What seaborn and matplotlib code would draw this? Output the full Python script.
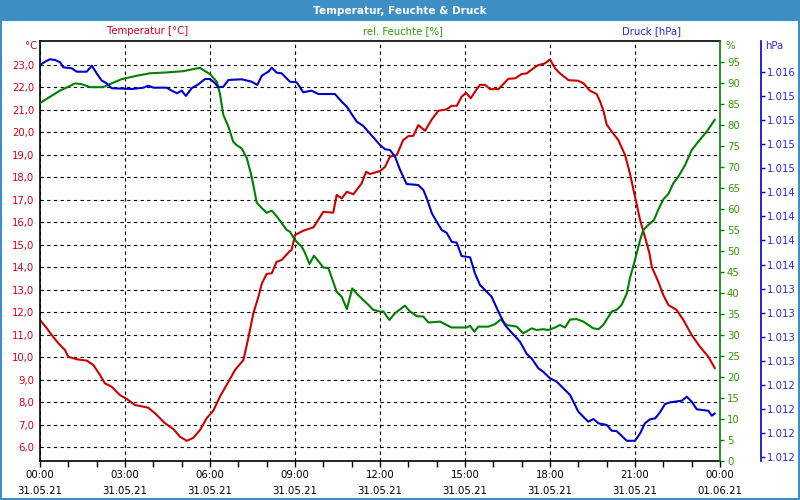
import matplotlib
matplotlib.use("Agg")
import matplotlib.pyplot as plt
import seaborn as sns
from matplotlib.patches import Rectangle
from matplotlib.ticker import FixedLocator, FuncFormatter

# ---------------- data ----------------
# time in hours since 31.05.21 00:00
t_temp = [0.00, 0.24, 0.41, 0.65, 0.88, 1.00, 1.30, 1.65, 1.88, 2.12, 2.29, 2.53, 2.82, 3.06, 3.35,
          3.82, 4.06, 4.41, 4.71, 4.94, 5.18, 5.41, 5.65, 5.88, 6.12, 6.35, 6.65, 6.88, 7.18, 7.35,
          7.53, 7.71, 7.83, 8.00, 8.18, 8.35, 8.53, 8.82, 8.88, 9.00, 9.29, 9.65, 10.00, 10.35, 10.47,
          10.65, 10.83, 11.06, 11.35, 11.51, 11.65, 12.00, 12.18, 12.35, 12.59, 12.82, 13.00, 13.18,
          13.35, 13.59, 13.83, 14.06, 14.35, 14.53, 14.71, 14.88, 15.04, 15.20, 15.41, 15.53, 15.71,
          15.88, 16.18, 16.41, 16.53, 16.77, 17.00, 17.18, 17.41, 17.59, 17.82, 18.00, 18.18, 18.35,
          18.65, 19.00, 19.18, 19.41, 19.65, 19.77, 19.88, 20.00, 20.18, 20.41, 20.65, 20.82, 21.00,
          21.18, 21.35, 21.51, 21.59, 21.82, 22.00, 22.18, 22.47, 22.71, 23.00, 23.29, 23.59, 23.82]
temperature = [11.65, 11.29, 10.99, 10.62, 10.32, 10.02, 9.91, 9.85, 9.66, 9.21, 8.84, 8.69, 8.32, 8.15, 7.88,
               7.76, 7.51, 7.07, 6.81, 6.47, 6.29, 6.42, 6.77, 7.29, 7.63, 8.25, 8.91, 9.43, 9.88, 10.84,
               11.95, 12.69, 13.28, 13.70, 13.73, 14.24, 14.32, 14.72, 14.76, 15.43, 15.62, 15.77, 16.46, 16.42, 17.21,
               17.06, 17.35, 17.24, 17.72, 18.24, 18.14, 18.27, 18.46, 18.91, 18.98, 19.65, 19.82, 19.84,
               20.31, 20.06, 20.57, 20.95, 21.01, 21.17, 21.17, 21.57, 21.75, 21.50, 21.90, 22.10, 22.10,
               21.91, 21.91, 22.21, 22.37, 22.39, 22.58, 22.61, 22.83, 22.98, 23.05, 23.23, 22.83, 22.61,
               22.31, 22.28, 22.17, 21.84, 21.69, 21.35, 20.98, 20.34, 20.02, 19.65, 18.98, 18.17, 17.13,
               16.09, 15.35, 14.61, 14.02, 13.36, 12.76, 12.32, 12.10, 11.65, 10.99, 10.47, 10.02, 9.51]

t_hum = [0.00, 0.35, 0.71, 1.00, 1.24, 1.47, 1.77, 2.23, 2.53, 2.88, 3.41, 3.88, 4.47, 5.06, 5.41,
         5.65, 5.76, 6.00, 6.24, 6.35, 6.47, 6.65, 6.82, 6.94, 7.12, 7.30, 7.47, 7.65, 7.83, 8.00,
         8.18, 8.35, 8.71, 8.82, 9.00, 9.24, 9.35, 9.51, 9.67, 10.00, 10.18, 10.47, 10.65, 10.83,
         11.02, 11.23, 11.59, 11.76, 12.00, 12.12, 12.33, 12.53, 12.88, 13.06, 13.30, 13.53, 13.71,
         14.12, 14.35, 14.53, 15.06, 15.18, 15.33, 15.47, 15.82, 16.06, 16.26, 16.47, 16.83, 17.06,
         17.35, 17.53, 17.76, 17.94, 18.18, 18.35, 18.53, 18.71, 18.94, 19.18, 19.53, 19.71, 19.88,
         20.18, 20.35, 20.53, 20.71, 20.82, 21.00, 21.06, 21.18, 21.29, 21.47, 21.67, 21.82, 22.00,
         22.18, 22.35, 22.53, 22.77, 23.00, 23.23, 23.53, 23.82]
humidity = [85.1, 86.6, 88.1, 89.0, 89.8, 89.6, 88.9, 88.9, 89.8, 90.8, 91.6, 92.2, 92.4, 92.7, 93.2,
            93.5, 93.0, 92.0, 90.2, 87.4, 82.3, 79.5, 75.9, 75.1, 74.3, 72.0, 67.6, 61.4, 60.1, 59.0,
            59.5, 58.2, 54.9, 54.5, 52.5, 50.9, 49.5, 46.8, 48.8, 46.0, 45.8, 40.2, 39.0, 36.1,
            41.0, 39.4, 37.1, 35.9, 35.5, 35.5, 33.5, 35.1, 36.9, 35.5, 34.4, 34.3, 32.9,
            33.1, 32.3, 31.7, 31.7, 32.1, 30.7, 31.9, 31.9, 32.5, 33.6, 32.3, 31.9, 30.3,
            31.5, 31.1, 31.3, 31.1, 31.7, 32.3, 31.7, 33.6, 33.7, 33.1, 31.5, 31.3, 32.3,
            35.5, 35.9, 37.1, 39.8, 43.4, 47.8, 49.4, 52.5, 54.9, 56.1, 57.3, 59.7, 62.2,
            63.5, 66.0, 67.6, 70.4, 73.9, 75.9, 78.3, 81.2]

t_pres = [0.00, 0.18, 0.35, 0.53, 0.71, 0.82, 1.12, 1.30, 1.65, 1.83, 2.00, 2.18, 2.35, 2.53, 3.24,
          3.65, 3.82, 4.00, 4.47, 4.65, 4.83, 5.00, 5.15, 5.35, 5.59, 5.82, 6.00, 6.18, 6.29, 6.47,
          6.65, 7.12, 7.47, 7.67, 7.83, 8.06, 8.18, 8.35, 8.53, 8.82, 9.06, 9.29, 9.59, 9.82, 10.41,
          10.65, 10.83, 11.06, 11.18, 11.41, 11.76, 12.00, 12.18, 12.35, 12.53, 12.71, 12.94, 13.35,
          13.53, 13.65, 13.83, 14.00, 14.18, 14.35, 14.53, 14.71, 14.88, 15.18, 15.35, 15.53, 15.77,
          15.94, 16.18, 16.41, 16.65, 16.94, 17.18, 17.35, 17.59, 17.76, 18.00, 18.24, 18.47, 18.71,
          19.00, 19.35, 19.53, 19.71, 20.00, 20.18, 20.35, 20.71, 21.00, 21.18, 21.35, 21.53, 21.71,
          21.88, 22.06, 22.24, 22.65, 22.83, 23.00, 23.18, 23.59, 23.71, 23.82]
pressure = [1015.673, 1015.707, 1015.732, 1015.725, 1015.701, 1015.649, 1015.638, 1015.603, 1015.603,
            1015.665, 1015.586, 1015.510, 1015.483, 1015.431, 1015.423, 1015.437, 1015.458, 1015.437,
            1015.437, 1015.406, 1015.379, 1015.406, 1015.351, 1015.431, 1015.472, 1015.527, 1015.527,
            1015.483, 1015.441, 1015.447, 1015.517, 1015.524, 1015.499, 1015.465, 1015.562, 1015.603,
            1015.645, 1015.593, 1015.586, 1015.499, 1015.493, 1015.389, 1015.406, 1015.371, 1015.371,
            1015.291, 1015.239, 1015.136, 1015.084, 1015.039, 1014.922, 1014.842, 1014.797, 1014.790,
            1014.720, 1014.582, 1014.436, 1014.426, 1014.374, 1014.288, 1014.132, 1014.045, 1013.958,
            1013.930, 1013.837, 1013.826, 1013.688, 1013.675, 1013.509, 1013.387, 1013.317, 1013.265,
            1013.110, 1012.971, 1012.891, 1012.798, 1012.670, 1012.625, 1012.522, 1012.486, 1012.418,
            1012.382, 1012.314, 1012.244, 1012.071, 1011.967, 1011.995, 1011.950, 1011.933, 1011.873,
            1011.870, 1011.769, 1011.769, 1011.846, 1011.950, 1011.992, 1012.002, 1012.064, 1012.151,
            1012.168, 1012.185, 1012.227, 1012.175, 1012.096, 1012.081, 1012.029, 1012.054]

temp_ticks = list(range(6, 24))
hum_ticks = list(range(0, 100, 5))
pres_ticks = [1015.6 - 0.25 * k for k in range(17)]
pres_labels = ["1.016", "1.015", "1.015", "1.015", "1.015", "1.014", "1.014", "1.014", "1.014",
               "1.013", "1.013", "1.013", "1.013", "1.012", "1.012", "1.012", "1.012"]
x_major = list(range(0, 25, 3))
x_labels = ["00:00\n31.05.21", "03:00\n31.05.21", "06:00\n31.05.21", "09:00\n31.05.21",
            "12:00\n31.05.21", "15:00\n31.05.21", "18:00\n31.05.21", "21:00\n31.05.21",
            "00:00\n01.06.21"]

title = "Temperatur, Feuchte & Druck"
head_temp = "Temperatur [°C]"
head_hum = "rel. Feuchte [%]"
head_pres = "Druck [hPa]"

# ---------------- style ----------------
sns.set_style("white")
plt.rcParams['font.family'] = ['DejaVu Sans']

RED = "#cc0000"
RED_T = "#d00018"
GREEN = "#008000"
GREEN_T = "#2f9a00"
BLUE = "#0000cc"
BLUE_T = "#2a2ad0"
FRAME = "#3d8fc6"
FS = 7.3

W, H = 800, 500
fig = plt.figure(figsize=(8, 5), dpi=100)
fig.patch.set_facecolor("white")

# window chrome
fig.patches.append(Rectangle((0, 1 - 21 / H), 1, 21 / H, transform=fig.transFigure,
                             facecolor=FRAME, edgecolor="none", zorder=0))
fig.patches.append(Rectangle((0, 0), 2 / W, 1, transform=fig.transFigure,
                             facecolor=FRAME, edgecolor="none", zorder=0))
fig.patches.append(Rectangle((1 - 2 / W, 0), 2 / W, 1, transform=fig.transFigure,
                             facecolor=FRAME, edgecolor="none", zorder=0))
fig.patches.append(Rectangle((0, 0), 1, 2 / H, transform=fig.transFigure,
                             facecolor=FRAME, edgecolor="none", zorder=0))
fig.text(0.5, 1 - 10.5 / H, title, color="white", fontweight="bold", fontsize=7.6,
         ha="center", va="center")

ax_left, ax_right, ax_top, ax_bot = 40, 720, 40.5, 460.7
ax = fig.add_axes([ax_left / W, 1 - ax_bot / H, (ax_right - ax_left) / W, (ax_bot - ax_top) / H])
ax2 = ax.twinx()
ax3 = ax.twinx()

sns.lineplot(x=t_temp, y=temperature, ax=ax, color=RED, linewidth=1.5, sort=False, estimator=None)
sns.lineplot(x=t_hum, y=humidity, ax=ax2, color=GREEN, linewidth=1.5, sort=False, estimator=None)
sns.lineplot(x=t_pres, y=pressure, ax=ax3, color=BLUE, linewidth=1.5, sort=False, estimator=None)

ax.set_xlim(0, 24)
ax.set_ylim(5.405, 24.07)
ax2.set_ylim(0, 100)
ax3.set_ylim(1011.562, 1015.927)
for a in (ax, ax2, ax3):
    a.set_xlabel("")
    a.set_ylabel("")

# left axis (temperature)
ax.yaxis.set_major_locator(FixedLocator(temp_ticks))
ax.yaxis.set_major_formatter(FuncFormatter(lambda v, p: f"{v:.1f}".replace(".", ",")))
ax.tick_params(axis="y", which="both", left=False, right=False, labelleft=True,
               length=0, pad=4, labelcolor=RED_T, labelsize=FS)

# x axis
ax.xaxis.set_major_locator(FixedLocator(x_major))
ax.xaxis.set_minor_locator(FixedLocator(list(range(0, 25))))
ax.set_xticklabels(x_labels)
ax.tick_params(axis="x", which="both", bottom=True, direction="out", length=4, width=1,
               color="black", labelsize=FS, labelcolor="black", pad=3)
for lbl in ax.get_xticklabels():
    lbl.set_linespacing(1.75)

# grid
ax.grid(True, which="major", color="black", linestyle=(0, (3, 3)), linewidth=0.8)
ax.set_axisbelow(True)

for s in ("left", "top", "bottom"):
    ax.spines[s].set_visible(True)
    ax.spines[s].set_color("black")
    ax.spines[s].set_linewidth(1.2)
ax.spines["right"].set_visible(False)

# humidity axis
for s in ("left", "top", "bottom"):
    ax2.spines[s].set_visible(False)
ax2.spines["right"].set_visible(True)
ax2.spines["right"].set_color(GREEN)
ax2.spines["right"].set_linewidth(1.2)
ax2.yaxis.set_major_locator(FixedLocator(hum_ticks))
ax2.tick_params(axis="y", which="both", right=True, direction="out", length=3, width=1,
                color=GREEN, labelcolor=GREEN_T, labelsize=FS, pad=2)
ax2.grid(False)

# pressure axis
for s in ("left", "top", "bottom"):
    ax3.spines[s].set_visible(False)
ax3.spines["right"].set_visible(True)
ax3.spines["right"].set_position(("axes", (761 - ax_left) / (ax_right - ax_left)))
ax3.spines["right"].set_color(BLUE)
ax3.spines["right"].set_linewidth(1.2)
ax3.yaxis.set_major_locator(FixedLocator(pres_ticks))
ax3.set_yticklabels(pres_labels)
ax3.tick_params(axis="y", which="both", right=True, direction="out", length=3, width=1,
                color=BLUE, labelcolor=BLUE_T, labelsize=FS, pad=1)
ax3.grid(False)

# header texts
fig.text(148 / W, 1 - 31 / H, head_temp, color=RED_T, fontsize=FS, ha="center", va="center")
fig.text(403 / W, 1 - 31 / H, head_hum, color=GREEN_T, fontsize=FS, ha="center", va="center")
fig.text(652 / W, 1 - 31 / H, head_pres, color=BLUE_T, fontsize=FS, ha="center", va="center")
fig.text(37 / W, 1 - 46 / H, "°C", color=RED_T, fontsize=FS, ha="right", va="center")
fig.text(725 / W, 1 - 46 / H, "%", color=GREEN_T, fontsize=FS, ha="left", va="center")
fig.text(765 / W, 1 - 46 / H, "hPa", color=BLUE_T, fontsize=FS, ha="left", va="center")

fig.savefig("out.png", dpi=100)
